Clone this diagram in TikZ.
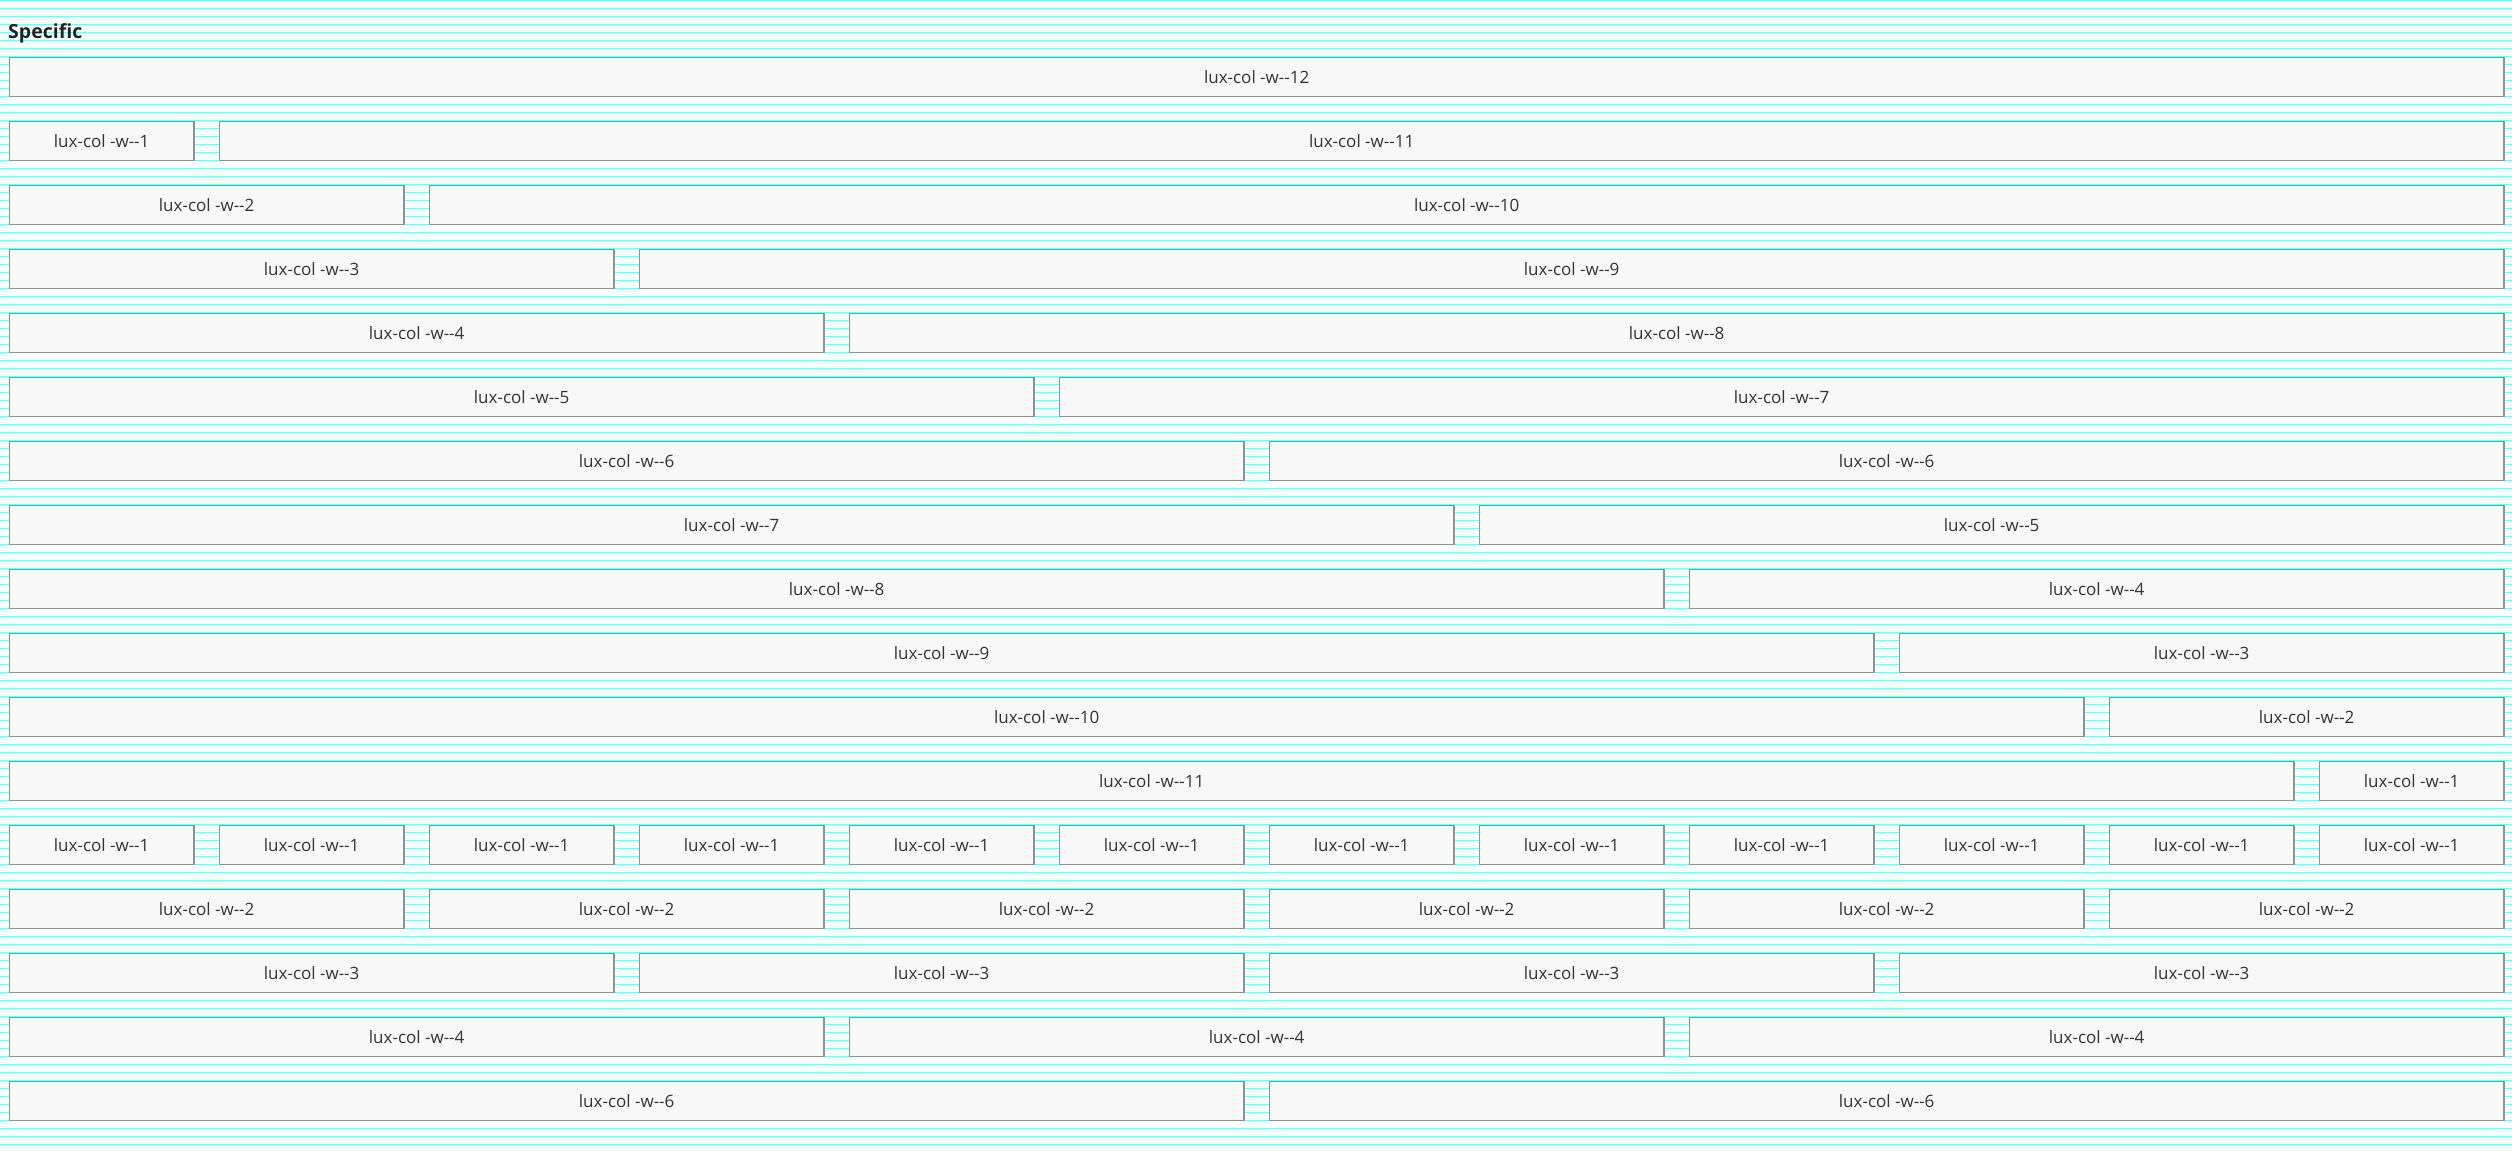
\documentclass[tikz,border=0pt]{standalone}
\usepackage{fontspec}
\setmainfont{Open Sans}
\definecolor{stripe}{RGB}{110,255,255}
\definecolor{boxline}{RGB}{145,145,145}
\definecolor{boxfill}{RGB}{247,248,247}
\definecolor{labeltext}{RGB}{51,51,51}
\definecolor{titletext}{RGB}{34,34,34}
% two separate hyphens, kept apart from the en-dash ligature
\newcommand\dhy{\mbox{-}\mbox{-}}
\begin{document}
\begin{tikzpicture}[x=1pt,y=-1pt,
  colbox/.style={draw=boxline, fill=boxfill, line width=1.3pt, inner sep=0pt,
    minimum height=39pt, anchor=north west, text=labeltext,
    font=\fontsize{17}{20}\selectfont},
  gridline/.style={stripe, line width=1pt}]
\useasboundingbox (0,0) rectangle (2512,1152);
% baseline grid behind everything
\foreach \k in {0,...,143}
  \draw[gridline] (0,8*\k+0.5) -- (2512,8*\k+0.5);
% title
\node[anchor=base west, inner sep=0pt, text=titletext,
  font=\bfseries\fontsize{19.5}{23}\selectfont] (title) at (8,38.3) {Specific};
% rows of columns: start column / span
\foreach \r/\items in {
  1/{0/12},
  2/{0/1,1/11},
  3/{0/2,2/10},
  4/{0/3,3/9},
  5/{0/4,4/8},
  6/{0/5,5/7},
  7/{0/6,6/6},
  8/{0/7,7/5},
  9/{0/8,8/4},
  10/{0/9,9/3},
  11/{0/10,10/2},
  12/{0/11,11/1},
  13/{0/1,1/1,2/1,3/1,4/1,5/1,6/1,7/1,8/1,9/1,10/1,11/1},
  14/{0/2,2/2,4/2,6/2,8/2,10/2},
  15/{0/3,3/3,6/3,9/3},
  16/{0/4,4/4,8/4},
  17/{0/6,6/6}}
{
  \foreach \s/\w in \items
    \node[colbox, minimum width={(210*\w-24-1.3)*1pt}]
      (b-\r-\s) at ({8.65+210*\s},{56.7+64*(\r-1)}) {lux-col -w\dhy\w};
}
\end{tikzpicture}
\end{document}
